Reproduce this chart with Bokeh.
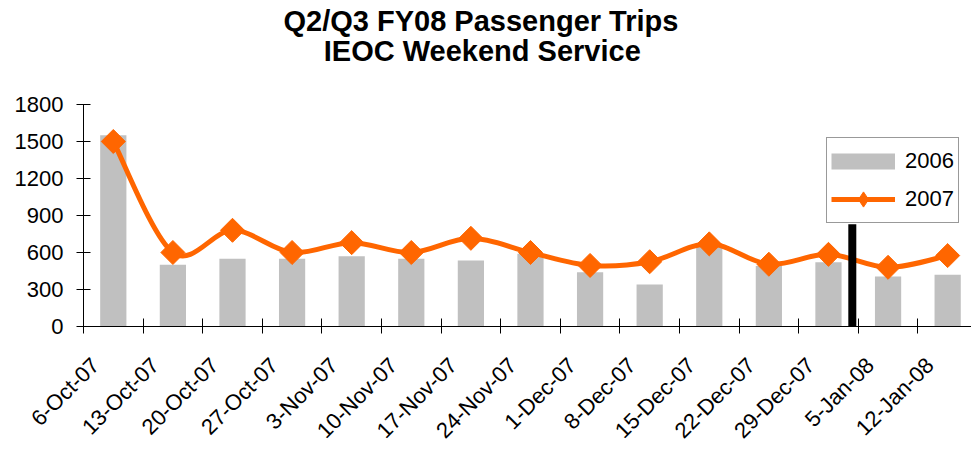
import math
from bokeh.plotting import figure
from bokeh.models import (Range1d, FixedTicker, Legend, LegendItem, Title,
                          BoxAnnotation, ColumnDataSource)
from bokeh.embed import file_html
from bokeh.resources import INLINE

# ---------------- data ----------------
categories = ["6-Oct-07", "13-Oct-07", "20-Oct-07", "27-Oct-07", "3-Nov-07",
              "10-Nov-07", "17-Nov-07", "24-Nov-07", "1-Dec-07", "8-Dec-07",
              "15-Dec-07", "22-Dec-07", "29-Dec-07", "5-Jan-08", "12-Jan-08"]
trips_2006 = [1550, 500, 550, 550, 570, 550, 535, 590, 440, 340, 650, 490, 520, 405, 420]
trips_2007 = [1500, 600, 780, 600, 680, 600, 715, 600, 495, 525, 670, 505, 585, 480, 575]
y_ticks = [0, 300, 600, 900, 1200, 1500, 1800]
divider_x = 12.9      # marker between 29-Dec-07 and 5-Jan-08
divider_top = 830

title_line1 = "Q2/Q3 FY08 Passenger Trips"
title_line2 = "IEOC Weekend Service"

FONT = "Liberation Sans"
GRAY = "#C0C0C0"
ORANGE = "#FF6600"
NBSP = "\u00a0"

n = len(categories)
xs = [i + 0.5 for i in range(n)]
label_shift = -0.3
label_pos = [x + label_shift for x in xs]

p = figure(width=971, height=454, output_backend="svg", toolbar_location=None,
           x_range=Range1d(0, 14.9), y_range=Range1d(0, 1800),
           min_border_left=83, min_border_right=0, min_border_top=104,
           min_border_bottom=127, title=None)
p.outline_line_color = None
p.xgrid.visible = False
p.ygrid.visible = False
p.background_fill_color = "white"
p.border_fill_color = "white"

# bars 2006
src = ColumnDataSource(dict(x=xs, y06=trips_2006, y07=trips_2007))
p.vbar(x="x", top="y06", width=0.44, bottom=0, source=src,
       fill_color=GRAY, line_color=None)

# smoothed 2007 line (Bezier through data points)
bx0, by0, bx1, by1, c0x, c0y, c1x, c1y = [], [], [], [], [], [], [], []
for i in range(n - 1):
    pm = i - 1 if i > 0 else i
    pp = i + 2 if i + 2 < n else i + 1
    bx0.append(xs[i]); by0.append(trips_2007[i])
    bx1.append(xs[i + 1]); by1.append(trips_2007[i + 1])
    c0x.append(xs[i] + (xs[i + 1] - xs[pm]) / 6.0)
    c0y.append(trips_2007[i] + (trips_2007[i + 1] - trips_2007[pm]) / 6.0)
    c1x.append(xs[i + 1] - (xs[pp] - xs[i]) / 6.0)
    c1y.append(trips_2007[i + 1] - (trips_2007[pp] - trips_2007[i]) / 6.0)
p.bezier(x0=bx0, y0=by0, x1=bx1, y1=by1, cx0=c0x, cy0=c0y, cx1=c1x, cy1=c1y,
         line_color=ORANGE, line_width=5, line_cap="round")
p.scatter(x="x", y="y07", source=src, marker="square", size=17, angle=math.pi / 4,
          fill_color=ORANGE, line_color=ORANGE)

# legend proxies (hidden)
leg06 = p.line(x="x", y="y06", source=src, line_color=GRAY, line_width=16, visible=False)
leg07l = p.line(x="x", y="y07", source=src, line_color=ORANGE, line_width=5, visible=False)
leg07m = p.scatter(x="x", y="y07", source=src, marker="diamond", fill_color=ORANGE,
                   line_color=ORANGE, visible=False)

legend = Legend(items=[LegendItem(label="2006", renderers=[leg06]),
                       LegendItem(label="2007", renderers=[leg07l, leg07m])],
                location=(743, 103), orientation="vertical",
                glyph_width=64, glyph_height=38, spacing=0, padding=4, margin=0,
                label_standoff=10, label_text_font=FONT, label_text_font_size="22px",
                label_text_color="black", border_line_color="#333333", border_line_width=1,
                background_fill_color="white", background_fill_alpha=1)
p.add_layout(legend)

# divider marker
p.add_layout(BoxAnnotation(left=divider_x - 0.067, right=divider_x + 0.067,
                           bottom=0, top=divider_top,
                           fill_color="black", fill_alpha=1, line_color=None))

# title: spacer next to frame, then the two-line title
p.add_layout(Title(text=" ", text_font_size="10px", standoff=24), "above")
p.add_layout(Title(text=title_line1 + "\n" + NBSP * 5 + title_line2,
                   align="left", offset=200, text_font=FONT, text_font_size="29px",
                   text_font_style="bold", text_color="black", text_line_height=0.95,
                   standoff=0), "above")

# axes
xa = p.xaxis[0]
xa.ticker = FixedTicker(ticks=label_pos, minor_ticks=list(range(n + 1)))
xa.major_label_overrides = {lp: c for lp, c in zip(label_pos, categories)}
xa.major_tick_line_color = None
xa.major_tick_in = 0
xa.major_tick_out = 0
xa.minor_tick_line_color = "black"
xa.minor_tick_in = 8
xa.minor_tick_out = 7
xa.axis_line_color = "black"
xa.major_label_orientation = math.pi / 4
xa.major_label_text_font = FONT
xa.major_label_text_font_size = "22px"
xa.major_label_text_color = "black"
xa.major_label_standoff = 28

ya = p.yaxis[0]
ya.ticker = FixedTicker(ticks=y_ticks, minor_ticks=[])
ya.major_tick_in = 7
ya.major_tick_out = 7
ya.major_tick_line_color = "black"
ya.axis_line_color = "black"
ya.major_label_text_font = FONT
ya.major_label_text_font_size = "22px"
ya.major_label_text_color = "black"
ya.major_label_standoff = 13

open("out.html", "w").write(file_html(p, INLINE))
